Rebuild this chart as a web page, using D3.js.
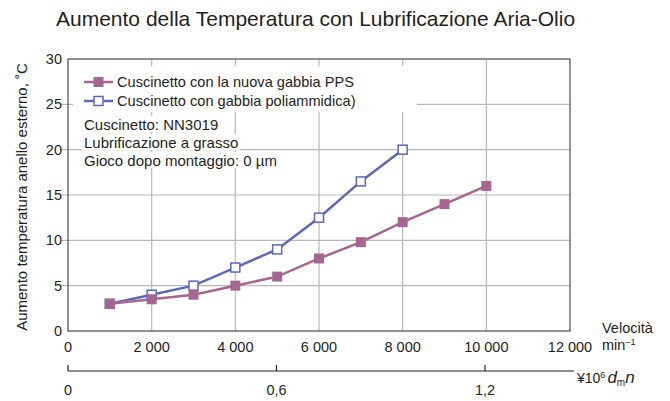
<!DOCTYPE html>
<html><head><meta charset="utf-8">
<script src="https://cdn.jsdelivr.net/npm/d3@7"></script>
<style>body{margin:0;background:#fff;} text{font-family:"Liberation Sans",Arial,sans-serif;fill:#231f20;}</style>
</head><body>
<svg id="c" width="670" height="401"></svg>
<script>
const speeds = [1000,2000,3000,4000,5000,6000,7000,8000,9000,10000];
const ppsValues = [3,3.5,4,5,6,8,9.8,12,14,16];
const polySpeeds = [1000,2000,3000,4000,5000,6000,7000,8000];
const polyValues = [3,4,5,7,9,12.5,16.5,20];
const xTicks = [0,2000,4000,6000,8000,10000,12000];
const xTickLabels = ["0","2 000","4 000","6 000","8 000","10 000","12 000"];
const yTicks = [0,5,10,15,20,25,30];
const dmnTicks = [0,0.6,1.2];
const dmnLabels = ["0","0,6","1,2"];
const seriesNames = ["Cuscinetto con la nuova gabbia PPS","Cuscinetto con gabbia poliammidica)"];
const notes = ["Cuscinetto: NN3019","Lubrificazione a grasso","Gioco dopo montaggio: 0 µm"];

const svg = d3.select("#c");
const L=68,R=570,T=59,B=331;
const x = d3.scaleLinear().domain([0,12000]).range([L,R]);
const y = d3.scaleLinear().domain([0,30]).range([B,T]);
const x2 = d3.scaleLinear().domain([0,1.2]).range([L,485]);
const purple="#a5678f", blue="#5d68b5", grid="#b8b8b8";

svg.append("text").attr("x",56).attr("y",26).style("font-size","21px").text("Aumento della Temperatura con Lubrificazione Aria-Olio");

// grid
const g = svg.append("g");
g.selectAll(".vg").data(xTicks.slice(1,-1)).enter().append("line")
 .attr("x1",d=>x(d)).attr("x2",d=>x(d)).attr("y1",T).attr("y2",B).attr("stroke",grid).attr("stroke-width",1.2);
g.selectAll(".hg").data(yTicks.slice(1,-1)).enter().append("line")
 .attr("x1",L-7).attr("x2",R).attr("y1",d=>y(d)).attr("y2",d=>y(d)).attr("stroke",grid).attr("stroke-width",1.2);

// white boxes behind legend & notes
svg.append("rect").attr("x",73).attr("y",66).attr("width",344).attr("height",46).attr("fill","#fff");
const noteY=[125,143,161];
const noteG = svg.append("g");
notes.forEach((n,i)=>{
  const t = noteG.append("text").attr("x",84).attr("y",noteY[i]+5).style("font-size","15px").text(n);
  const bb = t.node().getBBox();
  noteG.insert("rect","text").attr("x",bb.x-2).attr("y",bb.y).attr("width",bb.width+4).attr("height",bb.height-1).attr("fill","#fff");
});

// frame
svg.append("rect").attr("x",L).attr("y",T).attr("width",R-L).attr("height",B-T).attr("fill","none").attr("stroke","#4a4a4a").attr("stroke-width",1.2);

// y axis labels
svg.selectAll(".yl").data(yTicks).enter().append("text")
 .attr("x",L-6).attr("y",d=>y(d)+5).attr("text-anchor","end").style("font-size","14.5px").text(d=>d);
svg.append("text").attr("transform","translate(27,197) rotate(-90)").attr("text-anchor","middle").style("font-size","15px")
 .text("Aumento temperatura anello esterno, ˚C");

// x axis labels
svg.selectAll(".xl").data(xTicks).enter().append("text")
 .attr("x",d=>x(d)).attr("y",352).attr("text-anchor","middle").style("font-size","14.5px").text((d,i)=>xTickLabels[i]);
svg.append("text").attr("x",602).attr("y",333).style("font-size","14.5px").text("Velocità");
const mt = svg.append("text").attr("x",602).attr("y",350).style("font-size","14.5px");
mt.append("tspan").text("min");
mt.append("tspan").attr("dy",-5).style("font-size","9px").text("–1");

// second axis
const a2 = svg.append("g");
a2.append("line").attr("x1",L).attr("x2",574).attr("y1",371).attr("y2",371).attr("stroke","#231f20").attr("stroke-width",1.2);
a2.selectAll(".t2").data(dmnTicks).enter().append("line").attr("x1",d=>x2(d)).attr("x2",d=>x2(d)).attr("y1",365).attr("y2",371).attr("stroke","#231f20").attr("stroke-width",1.2);
a2.selectAll(".l2").data(dmnTicks).enter().append("text").attr("x",d=>x2(d)).attr("y",395).attr("text-anchor","middle").style("font-size","14.5px").text((d,i)=>dmnLabels[i]);
const u = svg.append("text").attr("x",577).attr("y",383).style("font-size","14px");
u.append("tspan").text("¥10");
u.append("tspan").attr("dy",-5).style("font-size","9px").text("6");
u.append("tspan").attr("dy",5).attr("dx",2).style("font-style","italic").style("font-size","17px").text("d");
u.append("tspan").attr("dy",3).style("font-size","10px").text("m");
u.append("tspan").attr("dy",-3).style("font-style","italic").style("font-size","17px").text("n");

// series
const line = d3.line().x(d=>x(d[0])).y(d=>y(d[1]));
const pps = speeds.map((s,i)=>[s,ppsValues[i]]);
const poly = polySpeeds.map((s,i)=>[s,polyValues[i]]);
svg.append("path").datum(poly).attr("d",line).attr("fill","none").attr("stroke",blue).attr("stroke-width",2.5);
svg.append("path").datum(pps).attr("d",line).attr("fill","none").attr("stroke",purple).attr("stroke-width",2.5);
svg.selectAll(".pm").data(poly).enter().append("rect").attr("x",d=>x(d[0])-4.5).attr("y",d=>y(d[1])-4.5).attr("width",9).attr("height",9).attr("fill","#fff").attr("stroke",blue).attr("stroke-width",1.5);
svg.selectAll(".qm").data(pps).enter().append("rect").attr("x",d=>x(d[0])-5).attr("y",d=>y(d[1])-5).attr("width",10).attr("height",10).attr("fill",purple);

// legend
const lg = svg.append("g");
[[82,purple,true],[101,blue,false]].forEach((r,i)=>{
  lg.append("line").attr("x1",84).attr("x2",113).attr("y1",r[0]).attr("y2",r[0]).attr("stroke",r[1]).attr("stroke-width",2.5);
  if(r[2]) lg.append("rect").attr("x",93.5).attr("y",r[0]-5).attr("width",10).attr("height",10).attr("fill",r[1]);
  else lg.append("rect").attr("x",94).attr("y",r[0]-4.5).attr("width",9).attr("height",9).attr("fill","#fff").attr("stroke",r[1]).attr("stroke-width",1.5);
  lg.append("text").attr("x",117).attr("y",r[0]+5).style("font-size","14.6px").text(seriesNames[i]);
});
</script>
</body></html>
